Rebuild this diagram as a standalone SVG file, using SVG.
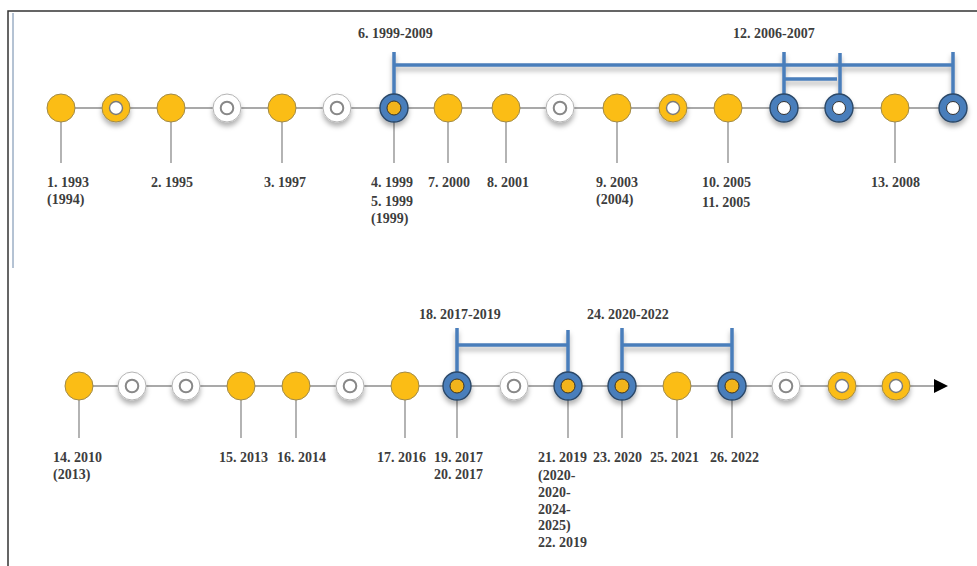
<svg xmlns="http://www.w3.org/2000/svg" width="977" height="566" viewBox="0 0 977 566">
<style>
.ax{stroke:#8c8c8c;stroke-width:1.3;fill:none}
.br{stroke:#4a7ebb;stroke-width:3.5;fill:none}
.frame{stroke:#333;stroke-width:1.5;fill:none}
.t{font-family:"Liberation Serif","Times New Roman",serif;font-weight:bold;font-size:14px;fill:#3d3d3d}
.yel{fill:#fbbd15;stroke:#a08a4a;stroke-width:1}
.hole{fill:#fff;stroke:#7a7a7a;stroke-width:1.4}
.wr{fill:#fff;stroke:#b4b4b4;stroke-width:1}
.bl{fill:#4a7ebb;stroke:#2c4868;stroke-width:1.4}
.by{fill:#f2b41c;stroke:#3a3426;stroke-width:1}
</style>
<defs>
<filter id="sh" x="-50%" y="-50%" width="200%" height="200%">
<feDropShadow dx="0" dy="4" stdDeviation="2.5" flood-color="#000" flood-opacity="0.3"/>
</filter>
<marker id="arr" markerUnits="userSpaceOnUse" markerWidth="14" markerHeight="14" refX="0" refY="7" orient="auto">
<path d="M0,0 L14,7 L0,14 z" fill="#000"/>
</marker>
<g id="nY"><circle r="14" class="yel"/></g>
<g id="nYR" filter="url(#sh)"><circle r="14" class="yel"/><circle r="6.5" class="hole"/></g>
<g id="nWR" filter="url(#sh)"><circle r="14" class="wr"/><circle r="6.3" fill="#fff" stroke="#888" stroke-width="2"/></g>
<g id="nBR" filter="url(#sh)"><circle r="14" class="bl"/><circle r="6.5" fill="#fff" stroke="#333" stroke-width="1"/></g>
<g id="nBY" filter="url(#sh)"><circle r="14" class="bl"/><circle r="7" class="by"/></g>
</defs>
<rect width="977" height="566" fill="#fff"/>
<g id="frame">
<path class="frame" d="M8,566 V11 H977"/>
<line x1="13" y1="13" x2="13" y2="268" stroke="#6a86a8" stroke-width="1"/>
</g>
<g id="connectors">
<line class="ax" x1="61" y1="108" x2="953" y2="108"/>
<path class="ax" d="M61,108V163 M171,108V163 M282,108V163 M394,108V163 M448,108V163 M506,108V163 M617,108V163 M728,108V163 M895,108V163"/>
<line class="ax" x1="79" y1="386" x2="934" y2="386" marker-end="url(#arr)"/>
<path class="ax" d="M79,386V438 M241,386V438 M296,386V438 M405,386V438 M457,386V438 M568,386V438 M622,386V438 M677,386V438 M732,386V438"/>
<g filter="url(#sh)">
<path class="br" d="M394,52V94 M394,65H953 M953,52V94 M784,52V94 M840,53V94 M784,79H837"/>
<path class="br" d="M457,328V372 M457,345H568 M568,330V372 M622,328V372 M622,345H732 M732,328V372"/>
</g>
</g>
<g id="n1"><use href="#nY" x="61" y="108"/><text class="t" x="47" y="187">1. 1993</text><text class="t" x="47" y="204">(1994)</text></g>
<g id="n1b"><use href="#nYR" x="116" y="108"/></g>
<g id="n2"><use href="#nY" x="171" y="108"/><text class="t" x="151" y="187">2. 1995</text></g>
<g id="n2b"><use href="#nWR" x="227" y="108"/></g>
<g id="n3"><use href="#nY" x="282" y="108"/><text class="t" x="264" y="187">3. 1997</text></g>
<g id="n3b"><use href="#nWR" x="337" y="108"/></g>
<g id="n4"><use href="#nBY" x="394" y="108"/><text class="t" x="371" y="187">4. 1999</text><text class="t" x="371" y="206">5. 1999</text><text class="t" x="371" y="223">(1999)</text></g>
<g id="n6"><text class="t" x="358" y="38">6. 1999-2009</text></g>
<g id="n7"><use href="#nY" x="448" y="108"/><text class="t" x="428" y="187">7. 2000</text></g>
<g id="n8"><use href="#nY" x="506" y="108"/><text class="t" x="487" y="187">8. 2001</text></g>
<g id="n8b"><use href="#nWR" x="560" y="108"/></g>
<g id="n9"><use href="#nY" x="617" y="108"/><text class="t" x="596" y="187">9. 2003</text><text class="t" x="596" y="204">(2004)</text></g>
<g id="n9b"><use href="#nYR" x="673" y="108"/></g>
<g id="n10"><use href="#nY" x="728" y="108"/><text class="t" x="702" y="187">10. 2005</text><text class="t" x="702" y="207">11. 2005</text></g>
<g id="n12a"><use href="#nBR" x="784" y="108"/><text class="t" x="733" y="38">12. 2006-2007</text></g>
<g id="n12b"><use href="#nBR" x="839" y="108"/></g>
<g id="n13"><use href="#nY" x="895" y="108"/><text class="t" x="871" y="187">13. 2008</text></g>
<g id="n13b"><use href="#nBR" x="953" y="108"/></g>
<g id="n14"><use href="#nY" x="79" y="386"/><text class="t" x="53" y="462">14. 2010</text><text class="t" x="53" y="479">(2013)</text></g>
<g id="n14b"><use href="#nWR" x="132" y="386"/></g>
<g id="n14c"><use href="#nWR" x="186" y="386"/></g>
<g id="n15"><use href="#nY" x="241" y="386"/><text class="t" x="219" y="462">15. 2013</text></g>
<g id="n16"><use href="#nY" x="296" y="386"/><text class="t" x="277" y="462">16. 2014</text></g>
<g id="n16b"><use href="#nWR" x="350" y="386"/></g>
<g id="n17"><use href="#nY" x="405" y="386"/><text class="t" x="377" y="462">17. 2016</text></g>
<g id="n18"><text class="t" x="419" y="319">18. 2017-2019</text></g>
<g id="n19"><use href="#nBY" x="457" y="386"/><text class="t" x="434" y="462">19. 2017</text><text class="t" x="434" y="479">20. 2017</text></g>
<g id="n19b"><use href="#nWR" x="514" y="386"/></g>
<g id="n21"><use href="#nBY" x="568" y="386"/><text class="t" x="538" y="462">21. 2019</text><text class="t" x="538" y="480">(2020-</text><text class="t" x="538" y="497">2020-</text><text class="t" x="538" y="514">2024-</text><text class="t" x="538" y="530">2025)</text><text class="t" x="538" y="547">22. 2019</text></g>
<g id="n23"><use href="#nBY" x="622" y="386"/><text class="t" x="593" y="462">23. 2020</text></g>
<g id="n24"><text class="t" x="587" y="319">24. 2020-2022</text></g>
<g id="n25"><use href="#nY" x="677" y="386"/><text class="t" x="650" y="462">25. 2021</text></g>
<g id="n26"><use href="#nBY" x="732" y="386"/><text class="t" x="710" y="462">26. 2022</text></g>
<g id="n27"><use href="#nWR" x="786" y="386"/></g>
<g id="n28"><use href="#nYR" x="842" y="386"/></g>
<g id="n29"><use href="#nYR" x="896" y="386"/></g>
</svg>
